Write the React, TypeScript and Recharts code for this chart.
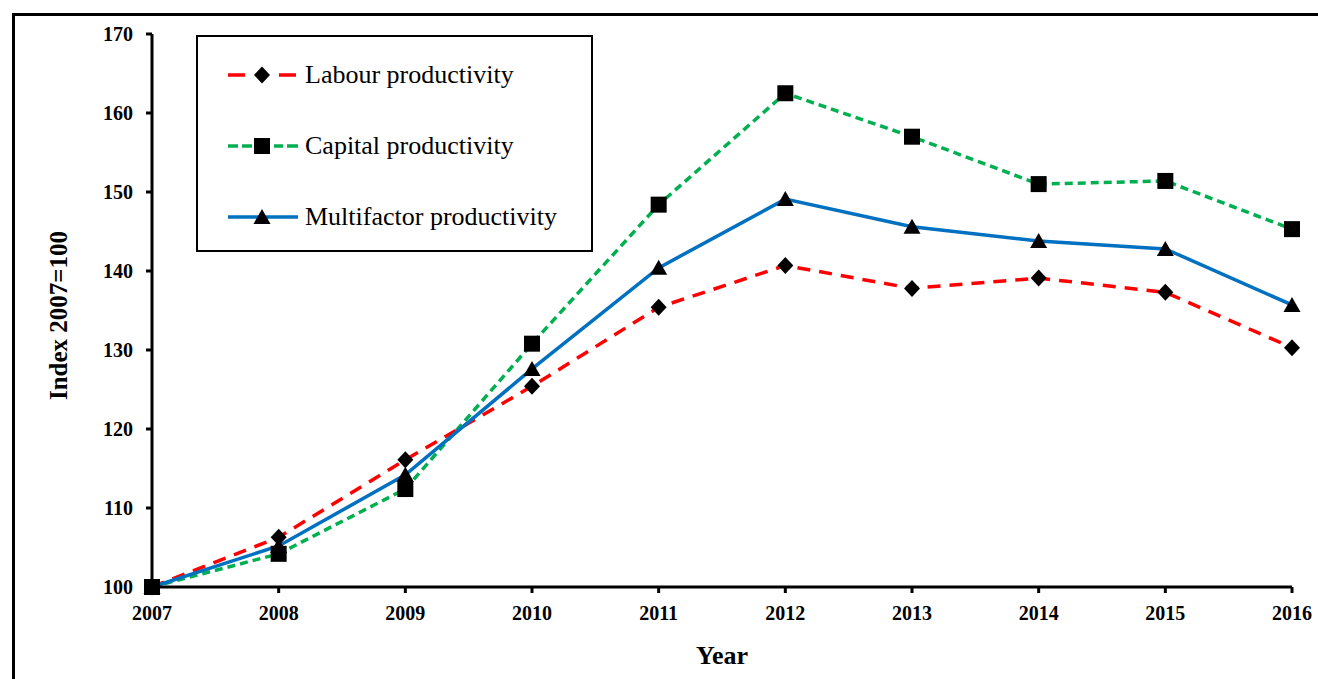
import React from "react";
import { LineChart, Line, XAxis, YAxis } from "recharts";

const YEARS = ["2007", "2008", "2009", "2010", "2011", "2012", "2013", "2014", "2015", "2016"];
const LABOUR = [100, 106.3, 116.1, 125.4, 135.4, 140.7, 137.8, 139.1, 137.3, 130.3];
const CAPITAL = [100, 104.2, 112.4, 130.8, 148.4, 162.5, 157.0, 151.0, 151.4, 145.3];
const MULTIFACTOR = [100, 105.2, 114.2, 127.6, 140.4, 149.1, 145.6, 143.8, 142.8, 135.7];
const Y_TICKS = [100, 110, 120, 130, 140, 150, 160, 170];

const FONT = '"Liberation Serif", "Times New Roman", serif';
const RED = "#ff0000";
const GREEN = "#00b050";
const BLUE = "#0070c0";

const rows = YEARS.map((year, i) => ({
  year,
  labour: LABOUR[i],
  capital: CAPITAL[i],
  multifactor: MULTIFACTOR[i],
}));

function Diamond({ cx, cy }: { cx: number; cy: number }) {
  return <path d={`M${cx},${cy - 8.5}L${cx + 8},${cy}L${cx},${cy + 8.5}L${cx - 8},${cy}Z`} fill="#000" />;
}
function Square({ cx, cy }: { cx: number; cy: number }) {
  return <rect x={cx - 8} y={cy - 8} width={16} height={16} fill="#000" />;
}
function Triangle({ cx, cy }: { cx: number; cy: number }) {
  return <path d={`M${cx},${cy - 8}L${cx + 8.5},${cy + 7}L${cx - 8.5},${cy + 7}Z`} fill="#000" />;
}

const tickStyle = { fill: "#000", fontSize: 20, fontWeight: 700, fontFamily: FONT };

function LegendRow({ top, kind, label }: { top: number; kind: "labour" | "capital" | "multi"; label: string }) {
  return (
    <div style={{ position: "absolute", left: 30, top: top - 14, height: 28, display: "flex", alignItems: "center" }}>
      <svg width={72} height={28} style={{ display: "block" }}>
        {kind === "labour" && (
          <>
            <line x1={0} y1={14} x2={17} y2={14} stroke={RED} strokeWidth={3.5} />
            <line x1={51} y1={14} x2={68} y2={14} stroke={RED} strokeWidth={3.5} />
            <Diamond cx={34} cy={14} />
          </>
        )}
        {kind === "capital" && (
          <>
            <line x1={0} y1={14} x2={10} y2={14} stroke={GREEN} strokeWidth={3.5} />
            <line x1={14} y1={14} x2={24} y2={14} stroke={GREEN} strokeWidth={3.5} />
            <line x1={46} y1={14} x2={55} y2={14} stroke={GREEN} strokeWidth={3.5} />
            <line x1={59} y1={14} x2={70} y2={14} stroke={GREEN} strokeWidth={3.5} />
            <Square cx={34} cy={14} />
          </>
        )}
        {kind === "multi" && (
          <>
            <line x1={0} y1={14} x2={70} y2={14} stroke={BLUE} strokeWidth={3.5} />
            <Triangle cx={34} cy={14} />
          </>
        )}
      </svg>
      <span style={{ fontFamily: FONT, fontSize: 26, color: "#000", marginLeft: 5, whiteSpace: "nowrap", lineHeight: "28px" }}>
        {label}
      </span>
    </div>
  );
}

export default function App() {
  return (
    <div style={{ position: "absolute", left: 0, top: 0, width: 1318, height: 679, overflow: "hidden", background: "#fff" }}>
      <div
        style={{
          position: "absolute",
          left: 12,
          top: 13,
          width: 1400,
          height: 800,
          borderLeft: "3px solid #000",
          borderTop: "3px solid #000",
        }}
      />
      <div style={{ position: "absolute", left: 0, top: 0 }}>
        <LineChart width={1318} height={679} data={rows} margin={{ top: 34, right: 26, bottom: 62, left: 0 }}>
          <XAxis
            dataKey="year"
            height={30}
            tick={tickStyle}
            tickSize={6}
            tickMargin={13}
            axisLine={{ stroke: "#000", strokeWidth: 3 }}
            tickLine={{ stroke: "#000", strokeWidth: 3 }}
            interval={0}
            label={{
              value: "Year",
              position: "bottom",
              offset: 29,
              style: { fill: "#000", fontSize: 26, fontWeight: 700, fontFamily: FONT },
            }}
          />
          <YAxis
            width={152}
            domain={[100, 170]}
            ticks={Y_TICKS}
            tick={tickStyle}
            tickSize={6}
            tickMargin={13}
            axisLine={{ stroke: "#000", strokeWidth: 3 }}
            tickLine={{ stroke: "#000", strokeWidth: 3 }}
            label={{
              content: (props: any) => {
                const vb = props.viewBox;
                const x = vb.x + 58;
                const y = vb.y + vb.height / 2 + 5;
                return (
                  <text
                    x={x}
                    y={y}
                    transform={`rotate(-90, ${x}, ${y})`}
                    textAnchor="middle"
                    dominantBaseline="central"
                    fill="#000"
                    fontSize={25}
                    fontWeight={700}
                    fontFamily={FONT}
                  >
                    Index 2007=100
                  </text>
                );
              },
            }}
          />
          <Line
            dataKey="capital"
            type="linear"
            stroke={GREEN}
            strokeWidth={3.5}
            strokeDasharray="8 5"
            dot={(p: any) => <Square key={`c${p.index}`} cx={p.cx} cy={p.cy} />}
            activeDot={false}
            isAnimationActive={false}
          />
          <Line
            dataKey="labour"
            type="linear"
            stroke={RED}
            strokeWidth={3.5}
            strokeDasharray="13 9"
            dot={(p: any) => <Diamond key={`l${p.index}`} cx={p.cx} cy={p.cy} />}
            activeDot={false}
            isAnimationActive={false}
          />
          <Line
            dataKey="multifactor"
            type="linear"
            stroke={BLUE}
            strokeWidth={3.5}
            dot={(p: any) => <Triangle key={`m${p.index}`} cx={p.cx} cy={p.cy} />}
            activeDot={false}
            isAnimationActive={false}
          />
        </LineChart>
      </div>
      <div
        style={{
          position: "absolute",
          left: 196,
          top: 35,
          width: 393,
          height: 213,
          border: "2px solid #000",
          background: "#fff",
        }}
      >
        <LegendRow top={38} kind="labour" label="Labour productivity" />
        <LegendRow top={109} kind="capital" label="Capital productivity" />
        <LegendRow top={180} kind="multi" label="Multifactor productivity" />
      </div>
    </div>
  );
}
